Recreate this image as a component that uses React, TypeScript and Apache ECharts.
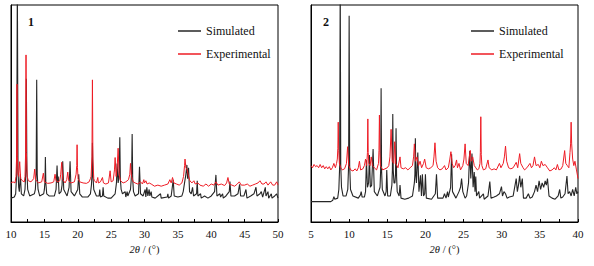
import React, { useEffect, useRef } from "react";
import * as echarts from "echarts";

// Panel 1: 2θ (°) vs relative intensity (a.u.)
const sim1: [number, number][] = [
  [10.0, 11], [10.5, 11.5], [10.7, 13], [10.85, 22], [10.95, 112], [11.05, 24], [11.15, 16], [11.25, 14],
  [11.4, 22], [11.55, 13], [11.9, 12], [12.1, 15], [12.22, 24], [12.3, 66], [12.38, 24], [12.5, 15],
  [12.8, 12], [13.5, 13], [13.65, 15], [13.77, 22], [13.85, 65.5], [13.93, 22], [14.05, 15], [14.3, 12],
  [14.9, 13], [15.0, 15], [15.1, 19], [15.15, 30], [15.22, 18], [15.35, 13], [15.7, 12], [16.5, 12],
  [16.75, 15], [16.9, 26], [17.0, 18], [17.08, 21], [17.2, 13], [17.5, 14], [17.65, 17], [17.75, 28],
  [17.9, 15], [18.4, 12], [18.7, 16], [18.85, 28], [19.0, 14], [19.5, 12], [20.0, 15], [20.15, 22],
  [20.3, 13], [20.7, 11.5], [21.5, 11.5], [21.9, 13], [22.05, 17], [22.14, 22], [22.2, 36.5], [22.28, 21],
  [22.4, 15], [22.8, 12], [23.2, 12], [23.3, 15], [23.4, 11.5], [23.7, 12], [23.8, 16], [23.9, 12],
  [24.5, 11], [25.0, 11], [25.6, 13], [25.8, 18], [25.9, 27], [26.05, 18], [26.15, 20], [26.22, 24],
  [26.3, 39], [26.38, 20], [26.5, 15], [26.7, 13], [27.1, 14], [27.2, 11.5], [27.4, 14], [27.5, 12],
  [27.9, 15], [28.0, 19], [28.08, 24], [28.15, 40.5], [28.23, 20], [28.35, 14], [28.6, 12], [29.1, 13],
  [29.25, 25.5], [29.4, 13], [29.8, 12], [30.1, 15], [30.2, 11.5], [30.35, 16], [30.5, 12], [30.7, 15],
  [30.8, 12], [31.0, 14], [31.1, 11.5], [31.6, 11], [32.4, 13], [32.5, 11], [33.4, 11.5], [33.5, 13],
  [33.6, 11], [34.0, 12], [34.3, 19.4], [34.45, 12], [35.0, 11.5], [35.6, 12], [35.8, 14], [36.0, 18],
  [36.2, 22], [36.35, 26.3], [36.45, 20], [36.6, 25], [36.75, 14], [37.0, 13], [37.2, 16], [37.35, 12],
  [37.8, 13], [37.9, 19], [38.0, 12], [38.4, 13], [38.5, 11], [39.0, 12], [39.5, 11], [40.0, 12],
  [40.5, 14], [40.7, 21.7], [40.85, 12], [41.3, 13], [41.4, 11.5], [41.7, 13], [41.8, 11], [42.2, 12],
  [42.7, 14], [42.8, 18.6], [42.95, 12], [43.5, 12], [44.0, 13], [44.25, 17.4], [44.4, 12], [44.9, 12],
  [45.2, 15], [45.35, 11], [45.9, 12], [46.4, 13], [46.7, 16], [46.85, 12], [47.3, 13], [47.5, 14],
  [47.7, 11.5], [48.1, 16], [48.2, 12], [48.5, 14], [48.6, 11], [49.0, 13], [49.1, 11], [49.5, 12],
  [49.8, 13], [50.0, 11],
];

const exp1: [number, number][] = [
  [10.0, 18], [10.3, 18.5], [10.6, 18], [10.75, 21], [10.84, 30], [10.9, 63.5], [10.96, 30], [11.05, 22],
  [11.15, 21], [11.3, 27.8], [11.45, 20], [11.7, 19], [12.0, 18.5], [12.1, 21], [12.19, 32], [12.25, 77],
  [12.31, 32], [12.42, 21], [12.6, 19], [13.0, 18.5], [13.4, 20], [13.55, 24.4], [13.7, 19.5], [14.1, 18],
  [14.6, 18.5], [14.85, 22.5], [15.0, 18.5], [15.5, 17.8], [16.0, 18], [16.4, 18.5], [16.6, 22], [16.75, 19],
  [17.0, 18.5], [17.3, 19], [17.45, 22], [17.6, 27.5], [17.75, 19.5], [18.1, 18], [18.35, 19.5], [18.5, 23],
  [18.65, 19], [19.0, 18], [19.5, 18.5], [19.75, 22], [19.85, 26], [19.9, 35.6], [19.96, 25], [20.05, 20],
  [20.3, 18.5], [20.8, 18], [21.3, 17.8], [21.7, 18.5], [21.9, 20], [22.0, 21], [22.13, 30], [22.2, 65.5],
  [22.27, 29], [22.4, 20], [22.5, 19], [22.8, 18], [23.0, 20.5], [23.1, 18], [23.4, 18.5], [23.7, 20.5],
  [23.85, 18], [24.2, 17.5], [24.6, 18], [24.85, 23.6], [25.0, 18.5], [25.3, 19], [25.5, 24], [25.6, 29.7],
  [25.75, 21], [25.9, 25], [26.05, 34], [26.2, 22], [26.4, 19], [26.8, 18], [27.2, 18.5], [27.6, 19.5],
  [27.8, 22], [27.9, 27], [28.05, 21], [28.3, 18.5], [28.6, 18], [29.0, 17.5], [29.4, 18.5], [29.7, 17.5],
  [29.9, 19.5], [30.0, 18], [30.2, 19], [30.4, 17.5], [30.7, 18], [31.0, 17.5], [31.5, 16.5], [32.0, 17],
  [32.5, 16.5], [33.0, 17], [33.5, 17.5], [33.8, 19.5], [34.0, 18], [34.2, 20.5], [34.4, 18], [34.8, 17.5],
  [35.2, 17], [35.6, 18], [35.85, 21], [36.0, 26], [36.07, 29], [36.2, 25], [36.4, 24], [36.6, 21],
  [36.8, 19], [37.1, 18], [37.4, 19], [37.6, 17.5], [38.0, 18], [38.3, 17], [38.8, 16.5], [39.2, 17.5],
  [39.6, 16.5], [40.0, 17.5], [40.4, 17], [40.7, 18.5], [41.0, 17], [41.5, 17.5], [42.0, 16.8], [42.3, 18],
  [42.5, 20.5], [42.7, 17.5], [43.1, 17], [43.5, 16.5], [43.9, 17.5], [44.2, 18.5], [44.5, 17], [45.0, 17],
  [45.4, 17.5], [45.8, 16.5], [46.2, 17], [46.6, 17.5], [47.0, 18], [47.3, 19], [47.6, 17.5], [47.9, 17.5],
  [48.2, 18.5], [48.5, 17], [48.9, 18.5], [49.2, 17], [49.5, 17], [49.8, 18.5], [50.0, 17],
];

// Panel 2
const sim2: [number, number][] = [
  [5.0, 9.4], [7.6, 9.4], [7.85, 10], [8.0, 11.7], [8.12, 10.5], [8.5, 11], [8.65, 15], [8.76, 26],
  [8.83, 115], [8.9, 26], [9.0, 16], [9.2, 12], [9.6, 12], [9.82, 15], [9.93, 26], [10.0, 95],
  [10.07, 26], [10.18, 15], [10.5, 12], [11.2, 11], [11.48, 12.5], [11.58, 14], [11.7, 11.5], [12.0, 11.5],
  [12.15, 14], [12.27, 28.5], [12.4, 16], [12.55, 18], [12.66, 30.9], [12.78, 16], [12.95, 17], [13.14, 33.6],
  [13.3, 14], [13.7, 12], [14.05, 16], [14.13, 24], [14.19, 61.6], [14.25, 24], [14.35, 15], [14.7, 12],
  [14.85, 14], [14.93, 24], [15.05, 12], [15.4, 12], [15.6, 17], [15.67, 24], [15.72, 49.8], [15.78, 24],
  [15.88, 18], [16.0, 18], [16.08, 22], [16.15, 43.2], [16.22, 21], [16.3, 14], [16.55, 12], [16.67, 17],
  [16.8, 11], [17.3, 10.5], [17.8, 11], [18.3, 12], [18.55, 18], [18.62, 22], [18.68, 38.6], [18.74, 22],
  [18.82, 18], [19.0, 32], [19.15, 14], [19.35, 21.5], [19.48, 12], [19.6, 22], [19.75, 12], [19.9, 13],
  [20.0, 22], [20.12, 11], [20.8, 10.5], [21.3, 13], [21.45, 22], [21.6, 11], [22.3, 11], [22.5, 13],
  [22.7, 11], [22.9, 14], [23.0, 11.5], [23.3, 16], [23.43, 31.2], [23.55, 14], [24.0, 11], [24.4, 14],
  [24.6, 16], [24.74, 20], [24.9, 14], [25.2, 11], [25.4, 12], [25.65, 18], [25.8, 32.7], [25.95, 20],
  [26.1, 31.6], [26.25, 16], [26.4, 23], [26.5, 14], [26.6, 21], [26.7, 12], [27.0, 14], [27.1, 11],
  [27.6, 13], [27.7, 10.5], [28.2, 12], [28.44, 18.6], [28.6, 11], [29.0, 11.5], [29.3, 12], [29.7, 13],
  [29.97, 16.3], [30.1, 12], [30.3, 14], [30.5, 13], [30.7, 11], [31.0, 11.5], [31.5, 12], [31.75, 17],
  [31.9, 20], [32.05, 14], [32.2, 17], [32.35, 21.3], [32.5, 16], [32.7, 20], [32.85, 11], [33.2, 11],
  [33.5, 13], [33.7, 11], [34.0, 11.5], [34.3, 14], [34.5, 17], [34.7, 14], [34.9, 19], [35.1, 15],
  [35.3, 18], [35.5, 16], [35.7, 19], [35.85, 17], [36.0, 20], [36.2, 12], [36.6, 11], [37.0, 10.5],
  [37.4, 12], [37.6, 15], [37.75, 11], [38.0, 11.5], [38.3, 13], [38.55, 21.2], [38.7, 13], [38.9, 14],
  [39.1, 12], [39.3, 15], [39.5, 12], [39.7, 16], [39.85, 13], [40.0, 14],
];

const exp2: [number, number][] = [
  [5.0, 26], [5.2, 25], [5.4, 26.5], [5.6, 25.5], [5.8, 26], [6.0, 25], [6.2, 26.5], [6.4, 25],
  [6.6, 26], [6.8, 24.5], [7.0, 25.5], [7.2, 24.5], [7.4, 25.5], [7.6, 24], [7.8, 25], [8.0, 27],
  [8.2, 25], [8.35, 27], [8.45, 29], [8.52, 34], [8.57, 46], [8.63, 33], [8.72, 27], [8.9, 25],
  [9.1, 24], [9.4, 24.5], [9.65, 27], [9.8, 34.7], [9.95, 26], [10.2, 24], [10.5, 23.5], [10.8, 24.5],
  [11.0, 23.5], [11.2, 25], [11.35, 28], [11.5, 24], [11.8, 24.5], [12.0, 26], [12.15, 29], [12.3, 26],
  [12.4, 32], [12.45, 47.5], [12.5, 32], [12.58, 27], [12.75, 26], [12.9, 30], [13.05, 26], [13.3, 25],
  [13.6, 24], [13.85, 27], [13.91, 33], [13.97, 49.3], [14.03, 32], [14.1, 26], [14.4, 24], [14.7, 24.5],
  [15.0, 25], [15.2, 26], [15.35, 30], [15.5, 42.7], [15.65, 28], [15.85, 27], [15.98, 37], [16.1, 27],
  [16.4, 25], [16.67, 30], [16.8, 25], [17.1, 24.5], [17.4, 25], [17.7, 24], [18.0, 25], [18.3, 26],
  [18.45, 30], [18.55, 36], [18.7, 28], [18.9, 30], [19.1, 26], [19.3, 28], [19.5, 25], [19.75, 27],
  [19.9, 29], [20.1, 25], [20.4, 24.5], [20.7, 25], [21.0, 26], [21.12, 30], [21.25, 36.5], [21.4, 28],
  [21.6, 25], [21.9, 24], [22.2, 24.5], [22.5, 26], [22.7, 24], [23.0, 25], [23.2, 29], [23.34, 32.4],
  [23.5, 27], [23.7, 25], [23.9, 26], [24.08, 28.6], [24.2, 25], [24.4, 27], [24.6, 24], [24.9, 26],
  [25.05, 29], [25.2, 36], [25.35, 27], [25.6, 26], [25.87, 33], [26.0, 28], [26.2, 30], [26.4, 26],
  [26.6, 25], [26.8, 24], [27.0, 24.5], [27.15, 27], [27.2, 32], [27.26, 48.5], [27.32, 31], [27.4, 26],
  [27.6, 24], [27.9, 24.5], [28.2, 28.6], [28.35, 25], [28.7, 24], [29.0, 24.5], [29.3, 24], [29.7, 27],
  [29.9, 25], [30.2, 27], [30.35, 30], [30.5, 35], [30.65, 28], [30.9, 25], [31.2, 24.5], [31.5, 25],
  [31.9, 27.5], [32.1, 25], [32.35, 31.5], [32.5, 27], [32.8, 25], [33.0, 24], [33.3, 25], [33.7, 27],
  [33.9, 25], [34.1, 26], [34.3, 30], [34.5, 26], [34.8, 26.5], [35.0, 25], [35.2, 28], [35.4, 26],
  [35.7, 26.5], [36.0, 25], [36.3, 23.5], [36.6, 24], [36.9, 25], [37.1, 24], [37.3, 26.5], [37.5, 24],
  [37.8, 24.5], [38.0, 26], [38.25, 32.9], [38.4, 27], [38.6, 26], [38.8, 25], [38.95, 32], [39.03, 36],
  [39.1, 46], [39.17, 36], [39.3, 29], [39.45, 26], [39.6, 28], [39.8, 24], [40.0, 20],
];

const seriesNames = ["Simulated", "Experimental"];
const panelLabels = ["1", "2"];
const xRanges: [number, number][] = [[10, 50], [5, 40]];
const xTickStep = 2.5;
const xLabelStep = 5;

const FONT = "Liberation Serif";
const BLACK = "#262626";
const RED = "#ee1c25";

export default function App() {
  const ref = useRef<HTMLDivElement>(null);
  useEffect(() => {
    if (!ref.current) return;
    const chart = echarts.init(ref.current, undefined, { renderer: "svg" });
    const gridLefts = [11, 311];
    const xAxes = xRanges.map((r, i) => ({
      type: "value" as const,
      gridIndex: i,
      min: r[0],
      max: r[1],
      interval: xTickStep,
      name: "{i|2θ} / (°)",
      nameLocation: "middle" as const,
      nameGap: 22,
      nameTextStyle: {
        fontFamily: FONT,
        fontSize: 10.5,
        color: "#111",
        rich: { i: { fontFamily: FONT, fontSize: 10.5, fontStyle: "italic", color: "#111" } },
      },
      axisLine: { show: true, onZero: false, lineStyle: { color: "#000", width: 1 } },
      axisTick: { show: true, inside: true, length: 3, lineStyle: { color: "#000" } },
      splitLine: { show: false },
      axisLabel: {
        fontFamily: FONT,
        fontSize: 11,
        color: "#111",
        margin: 6,
        formatter: (v: number) => (Math.abs(v % xLabelStep) < 1e-6 ? String(v) : ""),
      },
    }));
    const yAxes = [0, 1].map((i) => ({
      type: "value" as const,
      gridIndex: i,
      min: 0,
      max: 100,
      axisLine: { show: true, lineStyle: { color: "#000" } },
      axisTick: { show: false },
      axisLabel: { show: false },
      splitLine: { show: false },
    }));
    const mk = (name: string, data: [number, number][], idx: number, color: string, w: number) => ({
      type: "line" as const,
      name,
      xAxisIndex: idx,
      yAxisIndex: idx,
      data,
      symbol: "none",
      showSymbol: false,
      clip: true,
      lineStyle: { color, width: w },
      itemStyle: { color },
    });
    chart.setOption({
      animation: false,
      grid: gridLefts.map((l) => ({
        left: l,
        top: 5,
        width: 267,
        height: 217,
        show: true,
        borderColor: "#000",
        borderWidth: 1,
        backgroundColor: "transparent",
      })),
      xAxis: xAxes,
      yAxis: yAxes,
      legend: [173, 466].map((l) => ({
        data: seriesNames,
        left: l,
        top: 19,
        orient: "vertical",
        icon: "rect",
        itemWidth: 23,
        itemHeight: 1.5,
        itemGap: 9,
        selectedMode: false,
        textStyle: { fontFamily: FONT, fontSize: 12, lineHeight: 14, color: "#111", padding: [0, 0, 0, 0] },
      })),
      graphic: panelLabels.map((t, i) => ({
        type: "text",
        left: [28, 323][i],
        top: 16,
        style: { text: t, font: `bold 12px ${FONT}`, fill: "#111" },
      })),
      series: [
        mk(seriesNames[0], sim1, 0, BLACK, 1.1),
        mk(seriesNames[1], exp1, 0, RED, 1),
        mk(seriesNames[0], sim2, 1, BLACK, 1.1),
        mk(seriesNames[1], exp2, 1, RED, 1),
      ],
    });
    return () => chart.dispose();
  }, []);
  return (
    <div
      ref={ref}
      style={{ position: "absolute", left: 0, top: 0, width: 594, height: 266, background: "#fff" }}
    />
  );
}
